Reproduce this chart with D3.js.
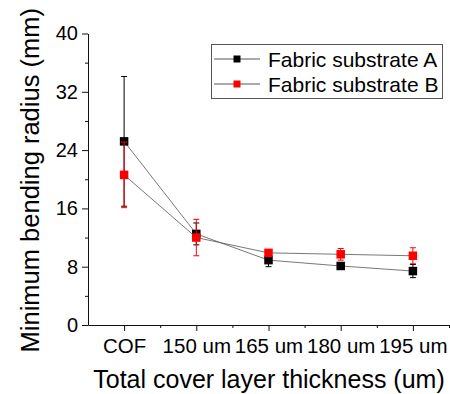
<!DOCTYPE html>
<html lang="en">
<head>
<meta charset="UTF-8">
<title>Minimum bending radius</title>
<script src="https://d3js.org/d3.v7.min.js"></script>
<style>
  body { margin: 0; background: #fff; }
  svg text { font-family: "Liberation Sans", Arial, sans-serif; fill: #000; }
</style>
</head>
<body>
<div class="chart"></div>
<script>
  // data
  const categories = ['COF', '150 um', '165 um', '180 um', '195 um']
  const seriesA = [25.2, 12.5, 8.9, 8.1, 7.4]
  const errA = [8.9, 1.5, 0.9, 0.4, 0.9]
  const seriesB = [20.6, 12.0, 9.9, 9.7, 9.5]
  const errB = [4.5, 2.5, 0.4, 0.8, 1.1]
  const yTicks = [0, 8, 16, 24, 32, 40]
  const yMinor = [4, 12, 20, 28, 36]
  const legendNames = ['Fabric substrate A', 'Fabric substrate B']

  const width = 450, height = 394
  const plotL = 88, plotR = 449, plotT = 33.5, plotB = 325

  const svg = d3.select('.chart').append('svg')
    .attr('width', width)
    .attr('height', height)

  const x = d3.scalePoint().domain(categories).range([plotL, plotR]).padding(0.5)
  const xEdge = d3.scaleLinear().domain([-0.5, categories.length - 0.5]).range([plotL, plotR])
  const y = d3.scaleLinear().domain([0, 40]).range([plotB, plotT])

  // minor ticks first
  svg.append('g')
    .attr('transform', `translate(${plotL},0)`)
    .call(d3.axisLeft(y).tickValues(yMinor).tickSize(3).tickFormat(''))
    .call(g => g.select('.domain').remove())
  svg.append('g')
    .attr('transform', `translate(0,${plotB})`)
    .call(d3.axisBottom(xEdge).tickValues([0.5, 1.5, 2.5, 3.5, 4.5]).tickSize(3).tickFormat(''))
    .call(g => g.select('.domain').remove())

  // y axis
  const yAxis = svg.append('g')
    .attr('transform', `translate(${plotL},0)`)
    .call(d3.axisLeft(y).tickValues(yTicks).tickSize(6).tickSizeOuter(0).tickPadding(4))
  yAxis.selectAll('text').style('font-size', '20px')

  // x axis
  const xAxis = svg.append('g')
    .attr('transform', `translate(0,${plotB})`)
    .call(d3.axisBottom(x).tickSize(6).tickSizeOuter(0).tickPadding(7))
  xAxis.selectAll('text').style('font-size', '20.5px')

  svg.selectAll('.domain, .tick line').attr('stroke', '#111').attr('stroke-width', 1)

  // axis titles
  svg.append('text')
    .attr('x', (plotL + plotR) / 2 + 0.5)
    .attr('y', 388)
    .attr('text-anchor', 'middle')
    .style('font-size', '25px')
    .text('Total cover layer thickness (um)')

  svg.append('text')
    .attr('transform', `translate(39,${(plotT + plotB) / 2 + 1}) rotate(-90)`)
    .attr('text-anchor', 'middle')
    .style('font-size', '25.5px')
    .text('Minimum bending radius (mm)')

  const series = [
    { name: legendNames[0], vals: seriesA, err: errA, color: '#000' },
    { name: legendNames[1], vals: seriesB, err: errB, color: '#f00' }
  ]

  const line = d3.line().x((d, i) => x(categories[i])).y(d => y(d))

  // connecting lines under the markers
  series.forEach(s => {
    svg.append('path')
      .datum(s.vals)
      .attr('d', line)
      .attr('fill', 'none')
      .attr('stroke', '#555')
      .attr('stroke-width', 0.8)
  })

  const msize = 8.5, cap = 6
  series.forEach(s => {
    const g = svg.append('g')
    const pts = s.vals.map((v, i) => ({ c: categories[i], v: v, e: s.err[i] }))

    g.selectAll('line.bar').data(pts).join('line')
      .attr('x1', d => x(d.c)).attr('x2', d => x(d.c))
      .attr('y1', d => y(d.v - d.e)).attr('y2', d => y(d.v + d.e))
      .attr('stroke', s.color).attr('stroke-width', 1)
    g.selectAll('line.capHi').data(pts).join('line')
      .attr('x1', d => x(d.c) - cap / 2).attr('x2', d => x(d.c) + cap / 2)
      .attr('y1', d => y(d.v + d.e)).attr('y2', d => y(d.v + d.e))
      .attr('stroke', s.color).attr('stroke-width', 1)
    g.selectAll('line.capLo').data(pts).join('line')
      .attr('x1', d => x(d.c) - cap / 2).attr('x2', d => x(d.c) + cap / 2)
      .attr('y1', d => y(d.v - d.e)).attr('y2', d => y(d.v - d.e))
      .attr('stroke', s.color).attr('stroke-width', 1)

    g.selectAll('rect').data(pts).join('rect')
      .attr('x', d => x(d.c) - msize / 2)
      .attr('y', d => y(d.v) - msize / 2)
      .attr('width', msize)
      .attr('height', msize)
      .attr('fill', s.color)
  })

  // legend
  const legend = svg.append('g')
  legend.append('rect')
    .attr('x', 211.5).attr('y', 44.5)
    .attr('width', 231).attr('height', 54)
    .attr('fill', '#fff')
    .attr('stroke', '#555')
    .attr('stroke-width', 1)

  const items = legend.selectAll('g.item').data(series).join('g')
    .attr('transform', (d, i) => `translate(0,${59 + i * 25})`)
  items.append('line')
    .attr('x1', 214).attr('x2', 260)
    .attr('y1', 0).attr('y2', 0)
    .attr('stroke', '#555').attr('stroke-width', 1)
  items.append('rect')
    .attr('x', 237 - 3.5).attr('y', -3.5)
    .attr('width', 7).attr('height', 7)
    .attr('fill', d => d.color)
  items.append('text')
    .attr('x', 268)
    .attr('y', 7.5)
    .style('font-size', '21px')
    .text(d => d.name)
</script>
</body>
</html>
